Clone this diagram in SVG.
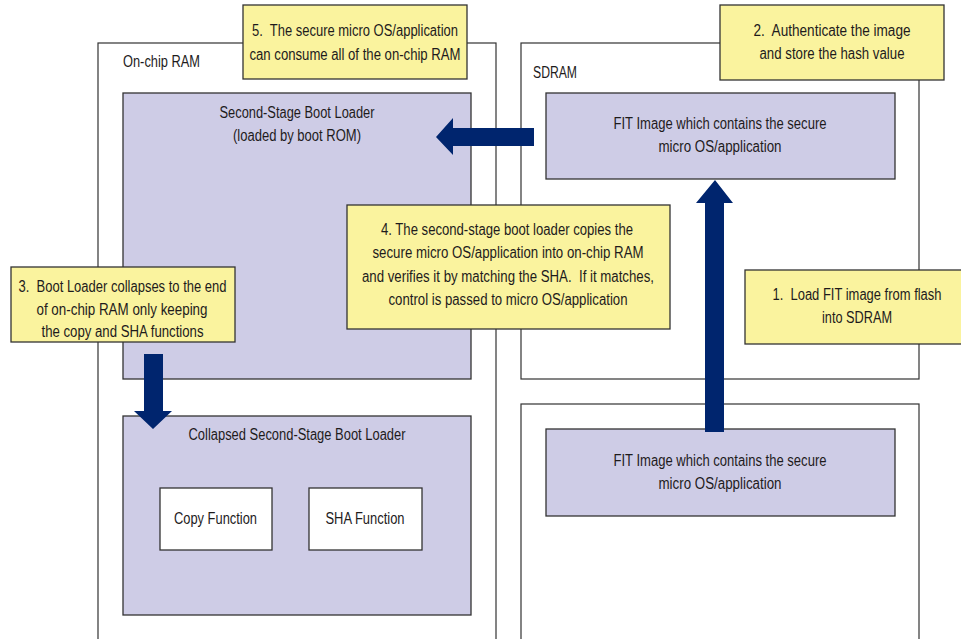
<svg xmlns="http://www.w3.org/2000/svg" width="961" height="639" viewBox="0 0 961 639">
<style>
  .outer{fill:#fff;stroke:#333;stroke-width:1.2}
  .lav{fill:#CECCE6;stroke:#333;stroke-width:1.3}
  .white{fill:#fff;stroke:#333;stroke-width:1.3}
  .note{fill:#FAF39E;stroke:#333;stroke-width:1.3}
  .arrow{fill:#00256E}
  text{font-family:"Liberation Sans Narrow","Liberation Sans",Arial,sans-serif;font-size:16px;fill:#1E1B1C}
  .c{text-anchor:middle}
</style>
<rect width="961" height="639" fill="#fff"/>

<g id="onchip-ram">
  <rect class="outer" x="98" y="43" width="398" height="610"/>
  <text x="123" y="67" textLength="77" lengthAdjust="spacingAndGlyphs">On-chip RAM</text>
</g>
<g id="sdram">
  <rect class="outer" x="521" y="43" width="398" height="336"/>
  <text x="533" y="78" textLength="44" lengthAdjust="spacingAndGlyphs">SDRAM</text>
</g>
<g id="flash">
  <rect class="outer" x="521" y="404" width="398" height="250"/>
</g>

<g id="ssbl">
  <rect class="lav" x="123" y="93" width="348" height="286"/>
  <text class="c" x="297" y="118" textLength="155" lengthAdjust="spacingAndGlyphs">Second-Stage Boot Loader</text>
  <text class="c" x="297" y="141" textLength="128" lengthAdjust="spacingAndGlyphs">(loaded by boot ROM)</text>
</g>
<g id="fit-sdram">
  <rect class="lav" x="546" y="93" width="349" height="86"/>
  <text class="c" x="720" y="129" textLength="213" lengthAdjust="spacingAndGlyphs">FIT Image which contains the secure</text>
  <text class="c" x="720" y="152" textLength="123" lengthAdjust="spacingAndGlyphs">micro OS/application</text>
</g>
<g id="collapsed">
  <rect class="lav" x="123" y="416" width="348" height="199"/>
  <text class="c" x="297" y="440" textLength="217" lengthAdjust="spacingAndGlyphs">Collapsed Second-Stage Boot Loader</text>
</g>
<g id="copy-fn">
  <rect class="white" x="160" y="488" width="112" height="62"/>
  <text class="c" x="215.5" y="524" textLength="83" lengthAdjust="spacingAndGlyphs">Copy Function</text>
</g>
<g id="sha-fn">
  <rect class="white" x="309" y="488" width="113" height="62"/>
  <text class="c" x="365" y="524" textLength="79" lengthAdjust="spacingAndGlyphs">SHA Function</text>
</g>
<g id="fit-flash">
  <rect class="lav" x="546" y="429" width="349" height="87"/>
  <text class="c" x="720" y="466" textLength="213" lengthAdjust="spacingAndGlyphs">FIT Image which contains the secure</text>
  <text class="c" x="720" y="489" textLength="123" lengthAdjust="spacingAndGlyphs">micro OS/application</text>
</g>

<g id="connectors">
  <polygon class="arrow" points="534,128 453,128 453,118 436,137 453,155 453,146 534,146"/>
  <polygon class="arrow" points="705,432 705,203 696,203 715,180 733,203 724,203 724,432"/>
  <polygon class="arrow" points="144,354 163,354 163,411 172,411 153,429 134,411 144,411"/>
</g>

<g id="note5">
  <rect class="note" x="243" y="5" width="224" height="74"/>
  <text class="c" x="355" y="36" textLength="206" lengthAdjust="spacingAndGlyphs">5.&#160; The secure micro OS/application</text>
  <text class="c" x="355" y="59.5" textLength="211" lengthAdjust="spacingAndGlyphs">can consume all of the on-chip RAM</text>
</g>
<g id="note2">
  <rect class="note" x="720" y="5" width="224" height="75"/>
  <text class="c" x="832" y="36" textLength="157" lengthAdjust="spacingAndGlyphs">2.&#160; Authenticate the image</text>
  <text class="c" x="832" y="59" textLength="145" lengthAdjust="spacingAndGlyphs">and store the hash value</text>
</g>
<g id="note4">
  <rect class="note" x="347" y="205" width="323" height="124"/>
  <text class="c" x="507" y="235" textLength="252" lengthAdjust="spacingAndGlyphs">4. The second-stage boot loader copies the</text>
  <text class="c" x="508" y="258" textLength="271" lengthAdjust="spacingAndGlyphs">secure micro OS/application into on-chip RAM</text>
  <text class="c" x="508" y="282" textLength="292" lengthAdjust="spacingAndGlyphs">and verifies it by matching the SHA.&#160; If it matches,</text>
  <text class="c" x="508" y="305" textLength="239" lengthAdjust="spacingAndGlyphs">control is passed to micro OS/application</text>
</g>
<g id="note3">
  <rect class="note" x="11" y="267" width="224" height="75"/>
  <text class="c" x="122.5" y="292" textLength="208" lengthAdjust="spacingAndGlyphs">3.&#160; Boot Loader collapses to the end</text>
  <text class="c" x="122" y="314.5" textLength="171" lengthAdjust="spacingAndGlyphs">of on-chip RAM only keeping</text>
  <text class="c" x="122.5" y="337" textLength="162" lengthAdjust="spacingAndGlyphs">the copy and SHA functions</text>
</g>
<g id="note1">
  <rect class="note" x="745" y="270" width="217" height="74"/>
  <text class="c" x="857" y="300" textLength="169" lengthAdjust="spacingAndGlyphs">1.&#160; Load FIT image from flash</text>
  <text class="c" x="857" y="323" textLength="70" lengthAdjust="spacingAndGlyphs">into SDRAM</text>
</g>
</svg>
